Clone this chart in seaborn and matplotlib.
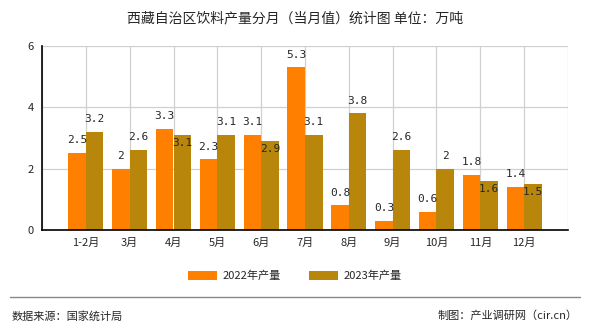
import matplotlib
matplotlib.use("Agg")
import matplotlib.pyplot as plt
import seaborn as sns
import pandas as pd

months = ["1-2月", "3月", "4月", "5月", "6月", "7月", "8月", "9月", "10月", "11月", "12月"]
v2022 = [2.5, 2, 3.3, 2.3, 3.1, 5.3, 0.8, 0.3, 0.6, 1.8, 1.4]
v2023 = [3.2, 2.6, 3.1, 3.1, 2.9, 3.1, 3.8, 2.6, 2, 1.6, 1.5]
series = ["2022年产量", "2023年产量"]
colors = ["#FF8000", "#B8860B"]

df = pd.DataFrame({
    "月份": months * 2,
    "产量": v2022 + v2023,
    "系列": [series[0]] * len(months) + [series[1]] * len(months),
})

sns.set_style("white")
plt.rcParams['font.family'] = ['Noto Sans CJK SC', 'DejaVu Sans']

fig = plt.figure(figsize=(5.9, 3.3), dpi=100)
ax = fig.add_axes([42/590, 1-230/330, (568-42)/590, (230-46)/330])

sns.barplot(data=df, x="月份", y="产量", hue="系列", order=months, hue_order=series,
            palette=colors, width=0.8, gap=0, saturation=1, linewidth=0,
            edgecolor="none", ax=ax, legend=False, zorder=2)

ax.set_xlim(-1, 11)
ax.set_ylim(0, 6)
ax.set_yticks([0, 2, 4, 6])
ax.set_xticks(range(-1, 12))
ax.set_xticklabels([""] + months + [""])
ax.tick_params(axis="both", labelsize=8, length=4, width=1, color="black", direction="out", pad=2)
ax.grid(True, color="#d0d0d0", linewidth=0.9, zorder=0)
ax.set_axisbelow(True)
for s in ["top", "right"]:
    ax.spines[s].set_visible(False)
for s in ["left", "bottom"]:
    ax.spines[s].set_color("black")
    ax.spines[s].set_linewidth(1.2)
ax.set_xlabel("")
ax.set_ylabel("")

# value labels
bw = 0.4
for i, (a, b) in enumerate(zip(v2022, v2023)):
    ax.text(i - bw/2, a + 0.42, f"{a:g}", ha="center", va="center",
            fontsize=8, family="DejaVu Sans Mono", zorder=5)
    if abs(a - b) < 0.5:
        ax.text(i + bw/2, b - 0.26, f"{b:g}", ha="center", va="center",
                fontsize=8, family="DejaVu Sans Mono", zorder=5)
    else:
        ax.text(i + bw/2, b + 0.42, f"{b:g}", ha="center", va="center",
                fontsize=8, family="DejaVu Sans Mono", zorder=5)

fig.text(0.5, 1-18/330, "西藏自治区饮料产量分月（当月值）统计图 单位：万吨",
         ha="center", va="center", fontsize=10)

from matplotlib.patches import Patch
handles = [Patch(facecolor=c, edgecolor="none") for c in colors]
fig.legend(handles, series, loc="center", bbox_to_anchor=(0.5, 1-276/330), ncol=2,
           frameon=False, fontsize=8, handlelength=2.6, handleheight=0.8,
           columnspacing=2.5, handletextpad=0.5)

fig.add_artist(plt.Line2D([10/590, 580/590], [1-297/330, 1-297/330],
                          color="#888888", linewidth=1, transform=fig.transFigure))
fig.text(12/590, 1-316/330, "数据来源：国家统计局", ha="left", va="center", fontsize=8)
fig.text(578/590, 1-316/330, "制图：产业调研网（cir.cn）", ha="right", va="center", fontsize=8)

fig.savefig("out.png", dpi=100, facecolor="white")
